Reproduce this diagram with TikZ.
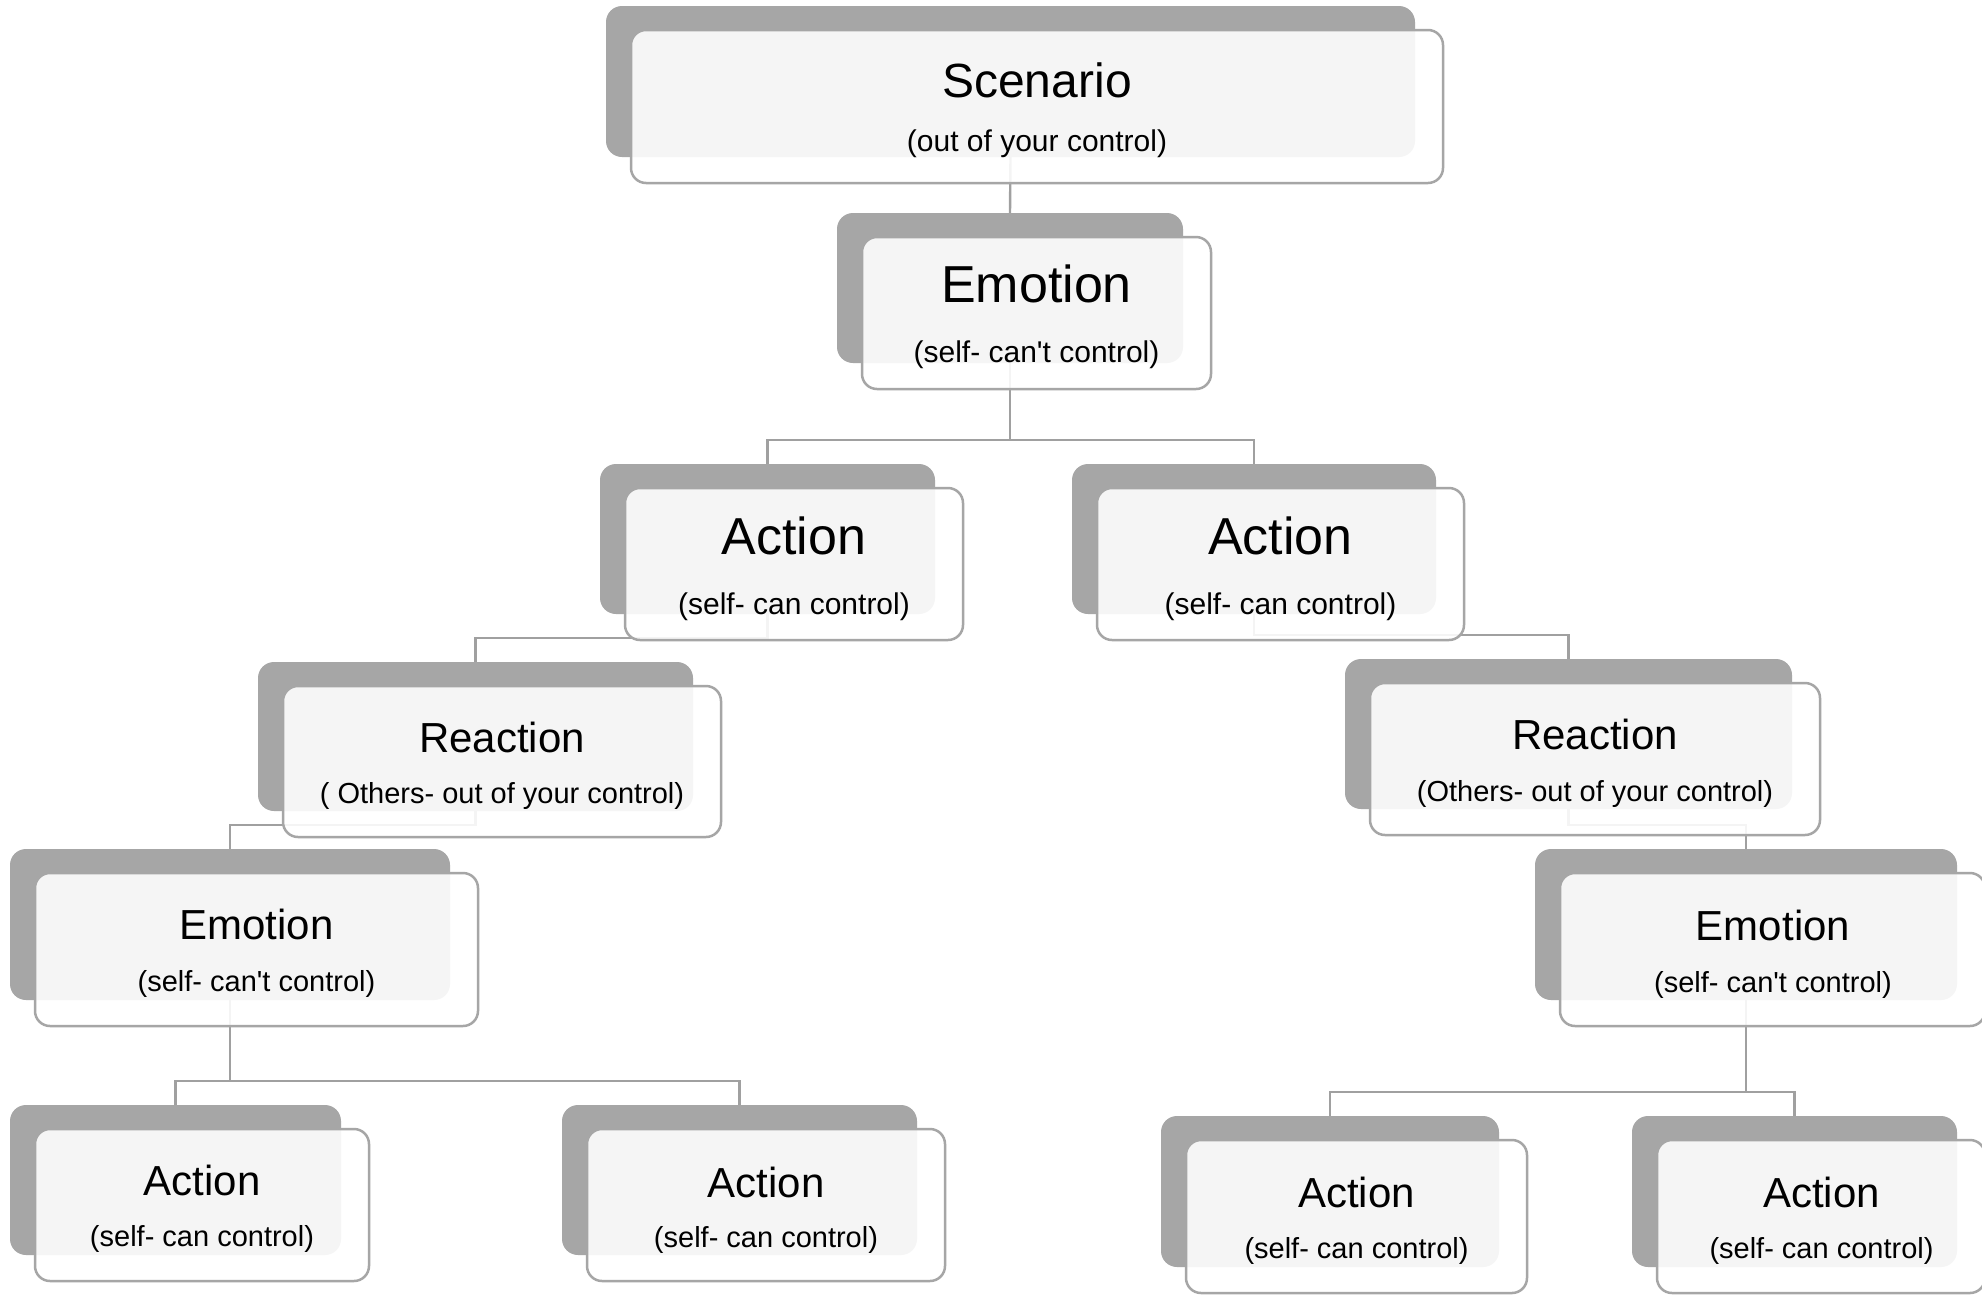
\documentclass[tikz,border=0pt]{standalone}
\usepackage{fontspec}
\newfontfamily\arialf{Liberation Sans}
\definecolor{boxgray}{HTML}{A6A6A6}
\definecolor{linegray}{HTML}{A0A0A0}
\pgfdeclarelayer{bg}
\pgfsetlayers{bg,main}
\tikzset{
  darkbox/.style={rectangle, rounded corners=16pt, fill=boxgray, inner sep=0pt, draw=none},
  frontbox/.style={rectangle, rounded corners=15pt, fill=white, fill opacity=0.89, draw=boxgray, line width=2.5pt, inner sep=0pt},
  conn/.style={draw=linegray, line width=2.4pt},
  txt/.style={inner sep=0pt, text=black},
  titleA/.style={txt, font=\arialf\fontsize{48}{56}\selectfont},
  titleB/.style={txt, font=\arialf\fontsize{52}{60}\selectfont},
  titleC/.style={txt, font=\arialf\fontsize{42}{50}\selectfont},
  subA/.style={txt, font=\arialf\fontsize{30}{36}\selectfont},
  subB/.style={txt, font=\arialf\fontsize{29}{35}\selectfont}
}
\newcommand\twobox[5]{%
  \pgfmathsetmacro\bxc{(#2+#4)/2}%
  \pgfmathsetmacro\byc{(#3+#5)/2}%
  \pgfmathsetmacro\bw{#4-#2}%
  \pgfmathsetmacro\bh{#5-#3}%
  \node[darkbox, minimum width=\bw pt, minimum height=\bh pt] (#1-b) at (\bxc,\byc) {};
  \pgfmathsetmacro\fxc{\bxc+26.5}%
  \pgfmathsetmacro\fyc{\byc+25}%
  \pgfmathsetmacro\fw{\bw+3}%
  \pgfmathsetmacro\fh{\bh+2}%
  \node[frontbox, minimum width=\fw pt, minimum height=\fh pt] (#1) at (\fxc,\fyc) {};
}
\begin{document}
\begin{tikzpicture}[x=1pt,y=-1pt]
\useasboundingbox (0,0) rectangle (1982,1294);

% boxes
\twobox{scen}{606}{6}{1415}{157}
\twobox{emo1}{837}{213}{1183}{363}
\twobox{actL}{600}{464}{935}{614}
\twobox{actR}{1072}{464}{1436}{614}
\twobox{reaL}{258}{662}{693}{811}
\twobox{reaR}{1345}{659}{1792}{809}
\twobox{emoL}{10}{849}{450}{1000}
\twobox{emoR}{1535}{849}{1957}{1000}
\twobox{actLL}{10}{1105}{341}{1255}
\twobox{actLR}{562}{1105}{917}{1255}
\twobox{actRL}{1161}{1116}{1499}{1267}
\twobox{actRR}{1632}{1116}{1957}{1267}

% texts
\node[titleA] (scen-t) at (1037,80) {Scenario};
\node[subA] (scen-s) at (1037,144) {(out of your control)};
\node[titleB] (emo1-t) at (1036.5,284) {Emotion};
\node[subA] (emo1-s) at (1036.5,355) {(self- can't control)};
\node[titleB] (actL-t) at (794,536) {Action};
\node[subA] (actL-s) at (794,607) {(self- can control)};
\node[titleB] (actR-t) at (1280.5,536) {Action};
\node[subA] (actR-s) at (1280.5,607) {(self- can control)};
\node[titleC] (reaL-t) at (502,737) {Reaction};
\node[subB] (reaL-s) at (502,796) {( Others- out of your control)};
\node[titleC] (reaR-t) at (1595,734) {Reaction};
\node[subB] (reaR-s) at (1595,793.5) {(Others- out of your control)};
\node[titleC] (emoL-t) at (256.5,924) {Emotion};
\node[subB] (emoL-s) at (256.5,984) {(self- can't control)};
\node[titleC] (emoR-t) at (1773,925) {Emotion};
\node[subB] (emoR-s) at (1773,985) {(self- can't control)};
\node[titleC] (actLL-t) at (202,1180.5) {Action};
\node[subB] (actLL-s) at (202,1239) {(self- can control)};
\node[titleC] (actLR-t) at (766,1182) {Action};
\node[subB] (actLR-s) at (766,1240) {(self- can control)};
\node[titleC] (actRL-t) at (1356.5,1192) {Action};
\node[subB] (actRL-s) at (1356.5,1251) {(self- can control)};
\node[titleC] (actRR-t) at (1821.5,1192) {Action};
\node[subB] (actRR-s) at (1821.5,1251) {(self- can control)};

% background and connectors (under the boxes)
\begin{pgfonlayer}{bg}
\fill[white] (0,0) rectangle (1982,1294);
\draw[conn] (scen-b.south) -- (emo1-b.north);
\draw[conn] (emo1-b.south) |- ([yshift=24pt]actL-b.north) -- (actL-b.north);
\draw[conn] (emo1-b.south) |- ([yshift=24pt]actR-b.north) -- (actR-b.north);
\draw[conn] (actL-b.south) |- ([yshift=24pt]reaL-b.north) -- (reaL-b.north);
\draw[conn] (actR-b.south) |- ([yshift=24pt]reaR-b.north) -- (reaR-b.north);
\draw[conn] (reaL-b.south) |- ([yshift=24pt]emoL-b.north) -- (emoL-b.north);
\draw[conn] (reaR-b.south) |- ([yshift=24pt]emoR-b.north) -- (emoR-b.north);
\draw[conn] (emoL-b.south) |- ([yshift=24pt]actLL-b.north) -- (actLL-b.north);
\draw[conn] (emoL-b.south) |- ([yshift=24pt]actLR-b.north) -- (actLR-b.north);
\draw[conn] (emoR-b.south) |- ([yshift=24pt]actRL-b.north) -- (actRL-b.north);
\draw[conn] (emoR-b.south) |- ([yshift=24pt]actRR-b.north) -- (actRR-b.north);
\end{pgfonlayer}
\end{tikzpicture}
\end{document}
